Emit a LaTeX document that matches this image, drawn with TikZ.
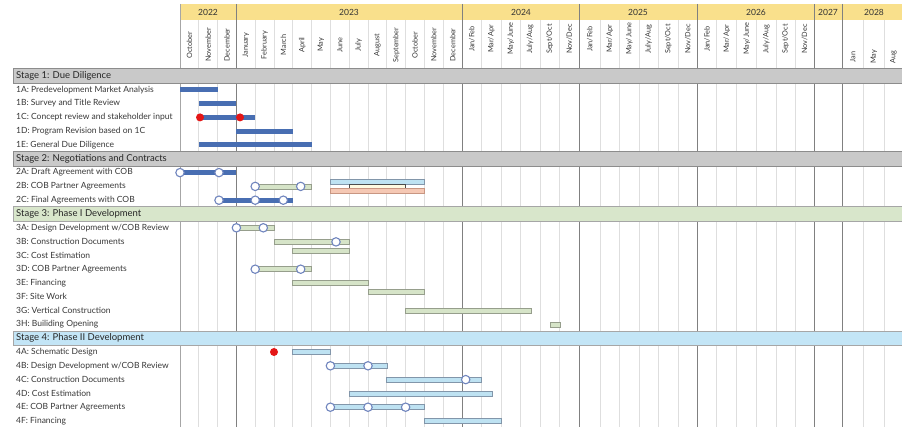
\documentclass[tikz,border=0pt]{standalone}
\usepackage{fontspec}
\setmainfont{Lato}
\usepackage{tikz}
\usetikzlibrary{positioning}
\usepackage{xcolor}
\definecolor{yearband}{RGB}{249,224,140}
\definecolor{stagegray}{RGB}{201,201,201}
\definecolor{stagegreen}{RGB}{216,230,203}
\definecolor{stagesky}{RGB}{195,229,246}
\definecolor{ganttblue}{RGB}{72,110,178}
\definecolor{bargreen}{RGB}{214,228,200}
\definecolor{bargreenline}{RGB}{150,158,140}
\definecolor{barsky}{RGB}{190,226,242}
\definecolor{barskyline}{RGB}{130,150,170}
\definecolor{barpink}{RGB}{245,200,180}
\definecolor{barpinkline}{RGB}{200,150,130}
\definecolor{barcream}{RGB}{255,250,225}
\definecolor{msblue}{RGB}{112,133,190}
\definecolor{dotred}{RGB}{228,22,22}

\begin{document}
\begin{tikzpicture}[x=1pt,y=-1pt,
  yearline/.style={draw=black!50, line width=1.3pt},
  monthline/.style={draw=black!13, line width=0.9pt},
  stageband/.style={draw=black!45, line width=0.9pt},
  stagelbl/.style={font=\fontsize{9.5}{11}\selectfont, anchor=west, text=black!85, inner sep=0pt},
  tasklbl/.style={font=\fontsize{8.5}{10}\selectfont, anchor=west, text=black!78, inner sep=0pt},
  monthlbl/.style={font=\fontsize{7.3}{8}\selectfont, rotate=90, text=black!78, inner sep=0pt},
  yearlbl/.style={font=\fontsize{8.5}{10}\selectfont, text=black!80, inner sep=0pt},
  darkbar/.style={fill=ganttblue},
  greenbar/.style={fill=bargreen, draw=bargreenline, line width=0.7pt},
  skybar/.style={fill=barsky, draw=barskyline, line width=0.7pt},
  ms/.style={fill=white, draw=msblue, line width=1.1pt},
  reddot/.style={fill=dotred}
]
\useasboundingbox (0,0) rectangle (902,427);
\fill[white] (0,0) rectangle (902,427);

% header
\fill[yearband] (180,4) rectangle (902,20);
\foreach \x in {198.8,217.6,255.2,274,292.8,311.6,330.4,349.2,368,386.8,405.6,424.4,443.2,
  481.3,501.3,520.3,540,559.3,600,619.3,639,658.3,678.3,716.7,736.7,756.7,776,795,863.3,884.3}
  \draw[monthline] (\x,20) -- (\x,427);
\draw[monthline, draw=black!35] (180,4) -- (180,427);
\foreach \x in {236.4,462.3,579.5,697.3,814.3,842.3}
  \draw[yearline] (\x,4) -- (\x,427);

\node[yearlbl] (y2022) at (208,12) {2022};
\node[yearlbl] (y2023) at (349,12) {2023};
\node[yearlbl] (y2024) at (521,12) {2024};
\node[yearlbl] (y2025) at (638,12) {2025};
\node[yearlbl] (y2026) at (756,12) {2026};
\node[yearlbl] (y2027) at (828,12) {2027};
\node[yearlbl] (y2028) at (874,12) {2028};

\foreach \x/\m [count=\k] in {189.4/October,208.2/November,227/December,245.8/January,
  264.6/February,283.4/March,302.2/April,321/May,339.8/June,358.6/July,377.4/August,
  396.2/September,415/October,433.8/November,452.6/December}
  \node[monthlbl] (m\k) at (\x,45) {\m};
\foreach \x/\m [count=\k] in {471.8/Jan\slash Feb,491.3/Mar\slash Apr,510.8/May\slash June,
  530.2/July\slash Aug,549.7/Sept\slash Oct,569.4/Nov\slash Dec,
  589.8/Jan\slash Feb,609.7/Mar\slash Apr,629.2/May\slash June,648.7/July\slash Aug,
  668.3/Sept\slash Oct,687.8/Nov\slash Dec,
  707/Jan\slash Feb,726.7/Mar\slash Apr,746.7/May\slash June,766.4/July\slash Aug,
  785.5/Sept\slash Oct,804.7/Nov\slash Dec}
  \node[monthlbl] (b\k) at (\x,39) {\m};
\node[monthlbl] (j2028) at (852.8,57) {Jan};
\node[monthlbl] (y2028may) at (873.8,57) {May};
\node[monthlbl] (a2028) at (893.5,57) {Aug};

% stage bands
\filldraw[stageband, fill=stagegray] (13,68.8) rectangle (903,83.2);
\filldraw[stageband, fill=stagegray] (13,151.6) rectangle (903,166);
\filldraw[stageband, fill=stagegreen, draw=black!35] (13,206.8) rectangle (903,221.2);
\filldraw[stageband, fill=stagesky, draw=black!35] (13,331) rectangle (903,345.4);

\node[stagelbl] (s1) at (16,76) {Stage 1: Due Diligence};
\node[stagelbl] (s2) at (16,158.8) {Stage 2: Negotiations and Contracts};
\node[stagelbl] (s3) at (16,214) {Stage 3: Phase I Development};
\node[stagelbl] (s4) at (16,338.2) {Stage 4: Phase II Development};

% task labels
\node[tasklbl] (t1a) at (16,89.8) {1A: Predevelopment Market Analysis};
\node[tasklbl] (t1b) at (16,103.6) {1B: Survey and Title Review};
\node[tasklbl] (t1c) at (16,117.4) {1C: Concept review and stakeholder input};
\node[tasklbl] (t1d) at (16,131.2) {1D: Program Revision based on 1C};
\node[tasklbl] (t1e) at (16,145) {1E: General Due Diligence};
\node[tasklbl] (t2a) at (16,172.6) {2A: Draft Agreement with COB};
\node[tasklbl] (t2b) at (16,186.4) {2B: COB Partner Agreements};
\node[tasklbl] (t2c) at (16,200.2) {2C: Final Agreements with COB};
\node[tasklbl] (t3a) at (16,227.8) {3A: Design Development w/COB Review};
\node[tasklbl] (t3b) at (16,241.6) {3B: Construction Documents};
\node[tasklbl] (t3c) at (16,255.4) {3C: Cost Estimation};
\node[tasklbl] (t3d) at (16,269.2) {3D: COB Partner Agreements};
\node[tasklbl] (t3e) at (16,283) {3E: Financing};
\node[tasklbl] (t3f) at (16,296.8) {3F: Site Work};
\node[tasklbl] (t3g) at (16,310.6) {3G: Vertical Construction};
\node[tasklbl] (t3h) at (16,324.4) {3H: Builiding Opening};
\node[tasklbl] (t4a) at (16,352) {4A: Schematic Design};
\node[tasklbl] (t4b) at (16,365.8) {4B: Design Development w/COB Review};
\node[tasklbl] (t4c) at (16,379.6) {4C: Construction Documents};
\node[tasklbl] (t4d) at (16,393.4) {4D: Cost Estimation};
\node[tasklbl] (t4e) at (16,407.2) {4E: COB Partner Agreements};
\node[tasklbl] (t4f) at (16,421) {4F: Financing};

% stage 1 bars
\fill[darkbar] (180,87.3) rectangle (217.6,92.3);
\fill[darkbar] (198.8,101.1) rectangle (236.4,106.1);
\fill[darkbar] (200,114.9) rectangle (255.2,119.9);
\fill[reddot] (200,117.4) circle (4);
\fill[reddot] (240,117.4) circle (4);
\fill[darkbar] (236.4,128.7) rectangle (293,133.7);
\fill[darkbar] (198.8,142.5) rectangle (311.6,147.5);

% stage 2 bars
\fill[darkbar] (180,170.1) rectangle (236.4,175.1);
\filldraw[ms] (180,172.6) circle (4.2);
\filldraw[ms] (219,172.6) circle (4.2);
\filldraw[greenbar] (255.2,183.9) rectangle (311.6,188.9);
\filldraw[ms] (255.2,186.4) circle (4.2);
\filldraw[ms] (300.7,186.4) circle (4.2);
\filldraw[fill=barsky, draw=barskyline, line width=0.7pt] (330.4,179.3) rectangle (424.4,184.3);
\filldraw[fill=barcream, draw=black!70, line width=0.7pt] (349.2,184.3) rectangle (405.6,188.3);
\filldraw[fill=barpink, draw=barpinkline, line width=0.7pt] (330.4,188.3) rectangle (424.4,193.3);
\fill[darkbar] (219,197.7) rectangle (293.3,202.7);
\filldraw[ms] (219,200.2) circle (4.2);
\filldraw[ms] (255.2,200.2) circle (4.2);
\filldraw[ms] (283.3,200.2) circle (4.2);

% stage 3 bars
\filldraw[greenbar] (236.4,225.3) rectangle (274,230.3);
\filldraw[ms] (236.4,227.8) circle (4.2);
\filldraw[ms] (263.3,227.8) circle (4.2);
\filldraw[greenbar] (274,239.4) rectangle (349.8,244.4);
\filldraw[ms] (336,241.9) circle (4.2);
\filldraw[greenbar] (292.8,248.5) rectangle (349.8,253.5);
\filldraw[greenbar] (255.2,266.7) rectangle (311.6,271.7);
\filldraw[ms] (255.2,269.2) circle (4.2);
\filldraw[ms] (300.7,269.2) circle (4.2);
\filldraw[greenbar] (292.8,280.3) rectangle (368,285.3);
\filldraw[greenbar] (368,289.5) rectangle (424.4,294.5);
\filldraw[greenbar] (405.6,308) rectangle (531,313);
\filldraw[greenbar] (550,322) rectangle (560.7,327);

% stage 4 bars
\fill[reddot] (274,352) circle (4);
\filldraw[skybar] (292.8,349.5) rectangle (330.4,354.5);
\filldraw[skybar] (330.4,363.3) rectangle (387,368.3);
\filldraw[ms] (330.4,365.8) circle (4.2);
\filldraw[ms] (368,365.8) circle (4.2);
\filldraw[skybar] (386.8,377.1) rectangle (481.5,382.1);
\filldraw[ms] (465.7,379.6) circle (4.2);
\filldraw[skybar] (349.2,390.9) rectangle (492.7,395.9);
\filldraw[skybar] (330.4,404.7) rectangle (424.4,409.7);
\filldraw[ms] (330.4,407.2) circle (4.2);
\filldraw[ms] (368,407.2) circle (4.2);
\filldraw[ms] (405.6,407.2) circle (4.2);
\filldraw[skybar] (424.4,418.5) rectangle (501.3,423.5);
\end{tikzpicture}
\end{document}
